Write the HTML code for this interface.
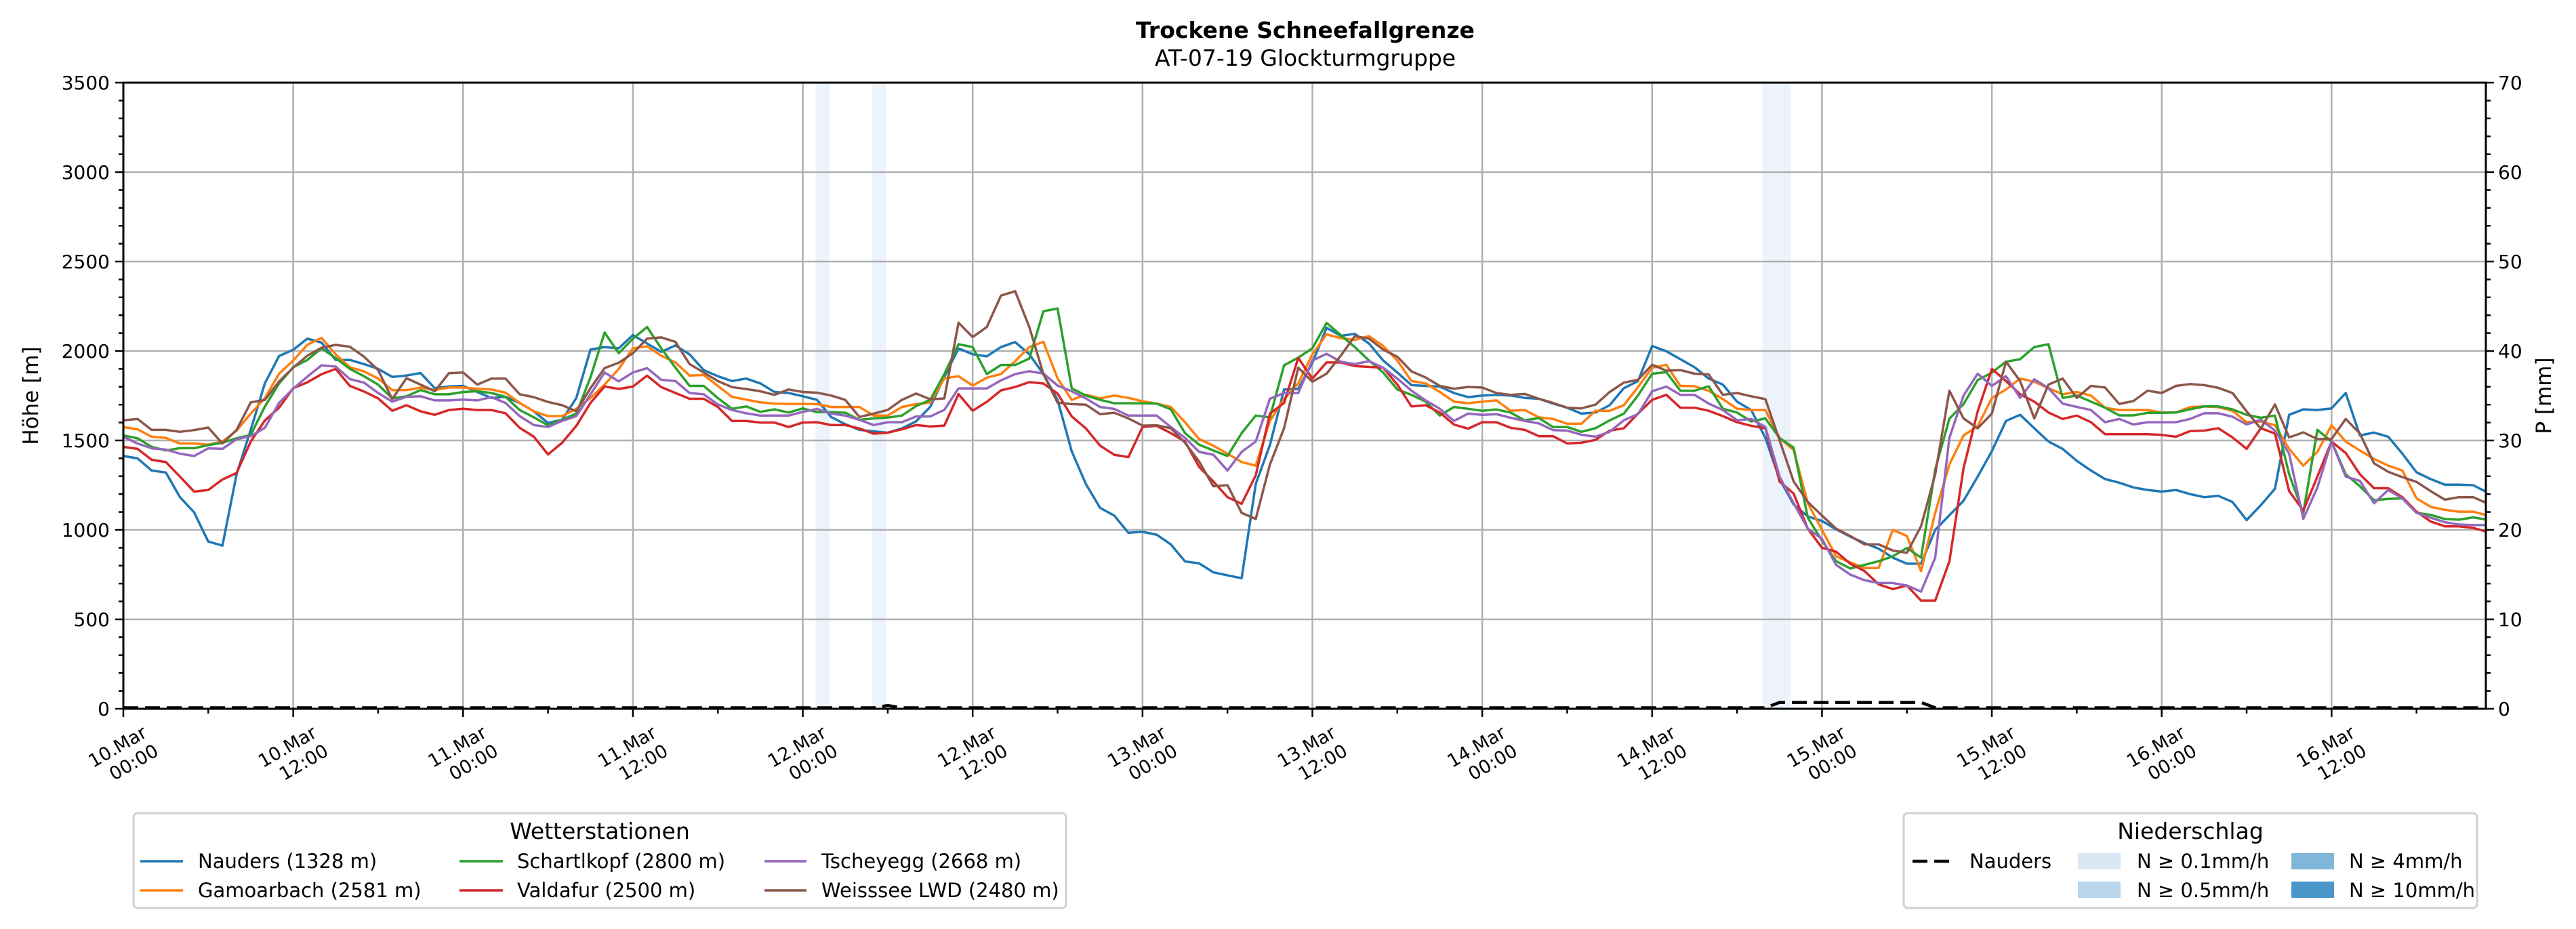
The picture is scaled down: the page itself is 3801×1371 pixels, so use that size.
<!DOCTYPE html>
<html><head><meta charset="utf-8"><title>Trockene Schneefallgrenze</title>
<style>
html,body{margin:0;padding:0;background:#fff;}
svg{display:block;font-family:"DejaVu Sans","Liberation Sans",sans-serif;}
</style></head>
<body>
<svg id="chart" width="3801" height="1371" viewBox="0 0 3801 1371" xmlns="http://www.w3.org/2000/svg">
<rect x="0" y="0" width="3801" height="1371" fill="#fff"/>
<text x="1926" y="56" font-size="33" font-weight="bold" text-anchor="middle">Trockene Schneefallgrenze</text>
<text x="1926" y="97" font-size="33" text-anchor="middle">AT-07-19 Glockturmgruppe</text>
<g id="bands"></g>
<g id="grid"></g>
<g id="series"></g>
<g id="axes"></g>
<text transform="translate(56,584) rotate(-90)" font-size="31" text-anchor="middle">Höhe [m]</text>
<text transform="translate(3764,584) rotate(-90)" font-size="31" text-anchor="middle">P [mm]</text>

<g>
<rect x="197" y="1200" width="1376" height="140" rx="6" fill="#fff" stroke="#d0d0d0" stroke-width="3"/>
<text x="885" y="1238" font-size="33" text-anchor="middle">Wetterstationen</text>
<g><line x1="207" y1="1271" x2="270" y2="1271" stroke="#1f77b4" stroke-width="3.5"/><text x="292" y="1281" font-size="29">Nauders (1328 m)</text></g>
<g><line x1="207" y1="1314" x2="270" y2="1314" stroke="#ff7f0e" stroke-width="3.5"/><text x="292" y="1324" font-size="29">Gamoarbach (2581 m)</text></g>
<g><line x1="678" y1="1271" x2="742" y2="1271" stroke="#2ca02c" stroke-width="3.5"/><text x="763" y="1281" font-size="29">Schartlkopf (2800 m)</text></g>
<g><line x1="678" y1="1314" x2="742" y2="1314" stroke="#d62728" stroke-width="3.5"/><text x="763" y="1324" font-size="29">Valdafur (2500 m)</text></g>
<g><line x1="1128" y1="1271" x2="1190" y2="1271" stroke="#9467bd" stroke-width="3.5"/><text x="1212" y="1281" font-size="29">Tscheyegg (2668 m)</text></g>
<g><line x1="1128" y1="1314" x2="1190" y2="1314" stroke="#8c564b" stroke-width="3.5"/><text x="1212" y="1324" font-size="29">Weisssee LWD (2480 m)</text></g>
</g>

<g>
<rect x="2809" y="1200" width="846" height="140" rx="6" fill="#fff" stroke="#d0d0d0" stroke-width="3"/>
<text x="3232" y="1238" font-size="33" text-anchor="middle">Niederschlag</text>
<g><line x1="2822" y1="1271" x2="2880" y2="1271" stroke="#000" stroke-width="4.5" stroke-dasharray="22,10"/><text x="2906" y="1281" font-size="29">Nauders</text></g>
<g><rect x="3066" y="1259" width="63" height="24" fill="#dae8f5"/><text x="3153" y="1281" font-size="29">N ≥ 0.1mm/h</text></g>
<g><rect x="3066" y="1301" width="63" height="24" fill="#b9d5eb"/><text x="3153" y="1324" font-size="29">N ≥ 0.5mm/h</text></g>
<g><rect x="3381" y="1259" width="63" height="24" fill="#80b6da"/><text x="3466" y="1281" font-size="29">N ≥ 4mm/h</text></g>
<g><rect x="3381" y="1301" width="63" height="24" fill="#4996c9"/><text x="3466" y="1324" font-size="29">N ≥ 10mm/h</text></g>
</g>
</svg>
<script>
const stationNames = ["Nauders (1328 m)","Gamoarbach (2581 m)","Schartlkopf (2800 m)","Valdafur (2500 m)","Tscheyegg (2668 m)","Weisssee LWD (2480 m)"];
const stationColors = ["#1f77b4","#ff7f0e","#2ca02c","#d62728","#9467bd","#8c564b"];
const tickHours = [0,12,24,36,48,60,72,84,96,108,120,132,144,156];
const tickDates = ["10.Mar","10.Mar","11.Mar","11.Mar","12.Mar","12.Mar","13.Mar","13.Mar","14.Mar","14.Mar","15.Mar","15.Mar","16.Mar","16.Mar"];
const tickTimes = ["00:00","12:00","00:00","12:00","00:00","12:00","00:00","12:00","00:00","12:00","00:00","12:00","00:00","12:00"];
const yTicks = [0,500,1000,1500,2000,2500,3000,3500];
const y2Ticks = [0,10,20,30,40,50,60,70];
const nauders = [1413,1400,1332,1321,1183,1098,935,912,1311,1560,1820,1972,2007,2069,2047,1950,1950,1927,1900,1855,1863,1877,1792,1802,1805,
1771,1737,1744,1710,1663,1598,1616,1737,2008,2022,2015,2089,2042,1995,2031,1981,1893,1859,1832,1846,1819,1771,1765,1747,
1727,1631,1591,1559,1551,1543,1567,1607,1687,1855,2014,1982,1970,2022,2050,1982,1871,1727,1439,1256,1123,1080,984,989,
973,919,824,813,763,746,730,1257,1474,1785,1788,1934,2130,2085,2096,2042,1947,1880,1809,1805,1801,1765,1742,1751,
1755,1751,1738,1733,1706,1683,1650,1656,1697,1792,1832,2028,1999,1954,1909,1846,1812,1717,1670,1514,1284,1142,1075,1050,
1003,962,926,895,845,811,811,1000,1082,1163,1298,1440,1609,1643,1568,1494,1453,1386,1332,1284,1264,1237,1223,1214,
1223,1200,1183,1190,1156,1055,1138,1230,1643,1674,1670,1679,1765,1528,1544,1521,1426,1322,1284,1253,1253,1250,1210];
const gamoarbach = [1575,1562,1521,1514,1483,1483,1476,1494,1555,1650,1737,1873,1947,2035,2073,1981,1909,1886,1846,1781,1781,1796,1782,1796,1796,
1789,1785,1767,1710,1663,1636,1636,1677,1737,1812,1900,2015,2026,1974,1936,1863,1866,1805,1744,1728,1713,1706,1704,1704,
1703,1687,1687,1687,1639,1639,1687,1703,1711,1847,1859,1807,1851,1871,1943,2022,2051,1847,1727,1756,1735,1751,1738,1719,
1706,1687,1602,1508,1471,1426,1379,1359,1609,1731,1819,1981,2093,2072,2062,2083,2028,1947,1832,1819,1771,1717,1708,1717,
1724,1666,1670,1629,1620,1593,1593,1666,1666,1697,1798,1907,1923,1805,1803,1778,1731,1677,1670,1670,1514,1447,1149,1000,
852,818,787,787,1000,966,770,1095,1365,1528,1580,1737,1785,1846,1828,1792,1758,1771,1751,1683,1670,1670,1670,1656,
1656,1686,1690,1686,1666,1602,1606,1585,1453,1359,1436,1585,1494,1444,1397,1359,1332,1176,1129,1112,1102,1102,1081];
const schartlkopf = [1528,1512,1464,1444,1457,1457,1474,1487,1512,1531,1690,1819,1909,1950,2015,1961,1900,1859,1812,1735,1747,1782,1758,1758,1771,
1775,1765,1744,1670,1629,1585,1616,1650,1853,2103,1988,2069,2134,2015,1907,1805,1805,1737,1677,1690,1660,1674,1656,1679,
1658,1658,1655,1615,1623,1628,1639,1692,1727,1871,2038,2022,1871,1922,1922,1958,2222,2238,1791,1751,1727,1708,1708,1708,
1706,1674,1541,1476,1444,1413,1541,1639,1629,1920,1963,2015,2157,2089,2022,1947,1880,1785,1755,1717,1639,1687,1677,1666,
1673,1656,1612,1625,1575,1575,1548,1568,1612,1650,1751,1873,1882,1778,1778,1803,1677,1656,1606,1623,1514,1460,1068,940,
825,784,804,825,852,899,845,1338,1622,1703,1838,1879,1940,1954,2022,2038,1738,1751,1717,1683,1640,1640,1654,1654,
1656,1674,1690,1690,1674,1643,1627,1639,1311,1095,1559,1494,1311,1244,1165,1173,1176,1095,1084,1061,1057,1070,1057];
const valdafur = [1464,1453,1392,1379,1298,1214,1223,1282,1318,1494,1612,1683,1792,1825,1870,1900,1805,1774,1735,1666,1697,1663,1643,1670,1677,
1670,1670,1652,1571,1521,1422,1487,1582,1710,1802,1788,1801,1862,1798,1765,1733,1733,1687,1609,1609,1600,1600,1575,1600,
1602,1586,1586,1567,1538,1543,1562,1586,1578,1583,1759,1666,1716,1780,1799,1826,1818,1762,1634,1567,1471,1420,1407,1575,
1582,1541,1494,1352,1271,1183,1146,1305,1650,1710,1961,1846,1936,1936,1916,1911,1907,1812,1690,1697,1656,1589,1566,1602,
1602,1571,1559,1524,1524,1483,1487,1503,1555,1568,1650,1727,1755,1683,1683,1666,1636,1602,1582,1568,1271,1203,1007,900,
878,811,770,696,669,689,605,605,824,1345,1663,1900,1832,1758,1717,1656,1620,1639,1602,1535,1535,1535,1535,1531,
1521,1552,1555,1568,1517,1453,1568,1539,1217,1108,1298,1494,1430,1311,1233,1233,1183,1102,1047,1020,1020,1011,989];
const tscheyegg = [1521,1483,1456,1449,1426,1413,1456,1453,1507,1524,1571,1710,1789,1857,1920,1913,1843,1823,1765,1717,1744,1747,1724,1724,1728,
1724,1742,1710,1636,1586,1575,1609,1636,1758,1880,1830,1880,1904,1839,1832,1765,1758,1701,1670,1652,1639,1639,1639,1660,
1676,1650,1639,1615,1586,1602,1602,1634,1634,1671,1791,1791,1791,1836,1871,1887,1874,1807,1775,1735,1687,1676,1639,1639,
1639,1575,1514,1436,1420,1332,1436,1494,1733,1765,1765,1947,1984,1940,1927,1943,1907,1846,1778,1724,1677,1609,1650,1643,
1647,1627,1609,1595,1558,1555,1532,1521,1548,1613,1647,1775,1801,1755,1755,1706,1670,1613,1620,1575,1298,1149,1007,950,
804,750,719,703,703,689,655,845,1514,1751,1873,1805,1859,1738,1842,1792,1706,1687,1670,1602,1620,1589,1602,1602,
1602,1620,1652,1652,1633,1589,1616,1555,1426,1061,1237,1494,1298,1274,1149,1223,1176,1095,1068,1043,1030,1027,1027];
const weisssee = [1612,1620,1559,1559,1548,1558,1572,1483,1559,1713,1727,1830,1907,1974,2018,2034,2024,1968,1893,1731,1848,1812,1775,1876,1880,
1812,1846,1846,1758,1742,1715,1697,1663,1792,1904,1934,1988,2069,2076,2051,1927,1880,1832,1798,1787,1775,1755,1785,1771,
1767,1751,1727,1631,1650,1671,1727,1762,1730,1735,2158,2078,2134,2310,2334,2134,1871,1711,1703,1700,1647,1655,1623,1583,
1585,1568,1487,1382,1244,1250,1095,1061,1365,1568,1907,1828,1873,1974,2083,2069,2008,1968,1886,1852,1805,1789,1799,1796,
1765,1755,1760,1733,1710,1683,1679,1700,1771,1823,1839,1923,1890,1893,1873,1869,1755,1765,1747,1731,1501,1271,1156,1080,
1007,966,919,919,885,872,1020,1311,1778,1623,1568,1650,1940,1832,1623,1812,1846,1738,1805,1796,1704,1720,1778,1765,
1805,1815,1809,1794,1765,1663,1566,1701,1517,1545,1508,1508,1620,1539,1372,1325,1295,1268,1217,1169,1183,1183,1149];
const precipHours = [53,54,55,116,117,118,119,120,121,122,123,124,125,126,127,128];
const precipNauders = [0,0.25,0,0,0.6,0.6,0.6,0.6,0.6,0.6,0.6,0.6,0.6,0.6,0.6,0];
const bandStart = [48.9,52.9,115.8];
const bandHoursLen = [1,1,2];

const NS="http://www.w3.org/2000/svg";
const L=182,R=3668,T=122,B=1046,TMAX=166.9;
function X(t){return L+t*(R-L)/TMAX;}
function Y(v){return B-v/3500*(B-T);}
function YP(p){return B-p/70*(B-T);}
function mk(tag,parent){const e=document.createElementNS(NS,tag);parent.appendChild(e);return e;}
const svg=document.getElementById('chart');
const gBands=document.getElementById('bands'),gGrid=document.getElementById('grid'),gSeries=document.getElementById('series'),gAxes=document.getElementById('axes');

const defs=mk('defs',svg);const cp=mk('clipPath',defs);cp.setAttribute('id','plotclip');
const cr=mk('rect',cp);cr.setAttribute('x',L);cr.setAttribute('y',T);cr.setAttribute('width',R-L);cr.setAttribute('height',B-T);

bandStart.forEach((s,i)=>{
  const r=mk('rect',gBands);
  
  
  r.setAttribute('x',X(s));r.setAttribute('y',T);r.setAttribute('width',X(s+bandHoursLen[i])-X(s));r.setAttribute('height',B-T);r.setAttribute('fill','#edf3fb');
});

tickHours.forEach(h=>{
  const l=mk('line',gGrid);
  
  
  l.setAttribute('x1',X(h));l.setAttribute('x2',X(h));l.setAttribute('y1',T);l.setAttribute('y2',B);l.setAttribute('stroke','#b0b0b0');l.setAttribute('stroke-width','2.5');
});
yTicks.forEach(v=>{
  const l=mk('line',gGrid);
  
  
  l.setAttribute('x1',L);l.setAttribute('x2',R);l.setAttribute('y1',Y(v));l.setAttribute('y2',Y(v));l.setAttribute('stroke','#b0b0b0');l.setAttribute('stroke-width','2.5');
});

const seriesData=[nauders,gamoarbach,schartlkopf,valdafur,tscheyegg,weisssee];
seriesData.forEach((arr,i)=>{
  const p=mk('polyline',gSeries);
  
  
  p.setAttribute('points',arr.map((v,t)=>X(t).toFixed(1)+','+Y(v).toFixed(1)).join(' '));
  p.setAttribute('fill','none');p.setAttribute('stroke',stationColors[i]);p.setAttribute('stroke-width','3.5');p.setAttribute('stroke-linejoin','round');p.setAttribute('clip-path','url(#plotclip)');
});

const pAll=[];for(let t=0;t<=167;t++){const k=precipHours.indexOf(t);pAll.push(k>=0?precipNauders[k]:0);}
const pl=mk('polyline',gSeries);


pl.setAttribute('points',pAll.map((p,t)=>X(t).toFixed(1)+','+(YP(p)-1.5).toFixed(1)).join(' '));
pl.setAttribute('fill','none');pl.setAttribute('stroke','#000');pl.setAttribute('stroke-width','4.5');pl.setAttribute('stroke-dasharray','22,10');pl.setAttribute('clip-path','url(#plotclip)');

const fr=mk('rect',gAxes);


fr.setAttribute('x',L);fr.setAttribute('y',T);fr.setAttribute('width',R-L);fr.setAttribute('height',B-T);fr.setAttribute('fill','none');fr.setAttribute('stroke','#000');fr.setAttribute('stroke-width','3');

function tick(x1,y1,x2,y2){const l=mk('line',gAxes);l.setAttribute('x1',x1);l.setAttribute('y1',y1);l.setAttribute('x2',x2);l.setAttribute('y2',y2);l.setAttribute('stroke','#000');l.setAttribute('stroke-width','2.5');return l;}
for(let v=0;v<=3500;v+=100){const major=v%500===0;const t=tick(L,Y(v),L-(major?12:7),Y(v));
  
  }
for(let p=0;p<=70;p+=2){const major=p%10===0;const t=tick(R,YP(p),R+(major?12:7),YP(p));
  
  }
for(let h=0;h<=TMAX;h+=6){const major=h%12===0;const t=tick(X(h),B,X(h),B+(major?12:7));
  
  }
yTicks.forEach(v=>{const t=mk('text',gAxes);
  
  
  t.setAttribute('x',L-20);t.setAttribute('y',Y(v)+10);t.setAttribute('text-anchor','end');t.setAttribute('font-size','28');t.textContent=v;});
y2Ticks.forEach(p=>{const t=mk('text',gAxes);
  
  
  t.setAttribute('x',R+18);t.setAttribute('y',YP(p)+10);t.setAttribute('font-size','28');t.textContent=p;});
tickHours.forEach((h,i)=>{
  const x=X(h);
  const a=mk('text',gAxes);
  
  
  a.setAttribute('transform','translate('+(x-4)+',1110) rotate(-30)');a.setAttribute('text-anchor','middle');a.setAttribute('font-size','27');a.textContent=tickDates[i];
  const b=mk('text',gAxes);
  
  
  b.setAttribute('transform','translate('+(x+20)+',1133) rotate(-30)');b.setAttribute('text-anchor','middle');b.setAttribute('font-size','27');b.textContent=tickTimes[i];
});
</script>
</body></html>
